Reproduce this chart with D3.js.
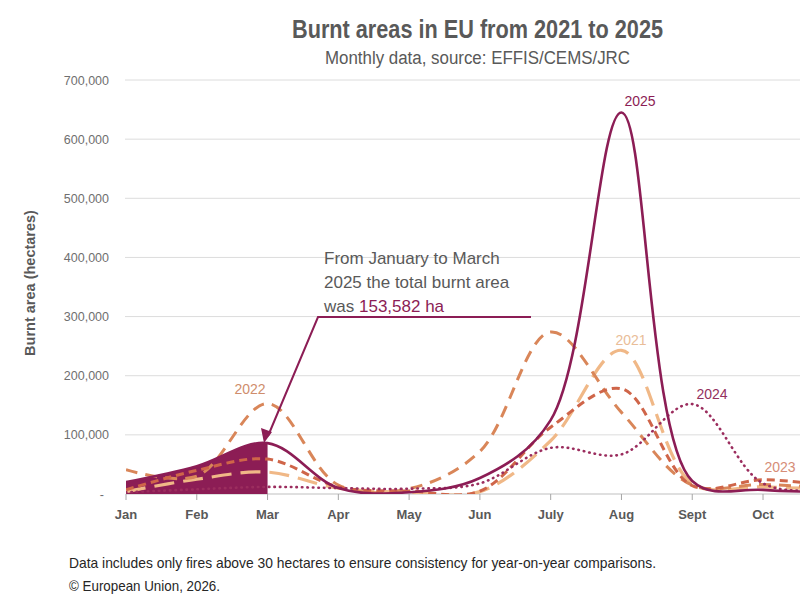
<!DOCTYPE html>
<html>
<head>
<meta charset="utf-8">
<script src="https://cdn.jsdelivr.net/npm/d3@7"></script>
<style>
	body { margin: 0; background: white; }
	.narrow { font-family: "Liberation Sans", sans-serif; }
</style>
</head>
<body>
<svg id="chart" width="800" height="598"></svg>
<script>
var months = ["Jan", "Feb", "Mar", "Apr", "May", "Jun", "July", "Aug", "Sept", "Oct", "Nov", "Dec"];
var yTicks = [0, 100000, 200000, 300000, 400000, 500000, 600000, 700000];

// monthly burnt area, hectares
var y2021 = [4000, 25000, 37000, 10000, 3000, 4000, 90000, 243000, 18000, 12000, 8000, 3000];
var y2022 = [41000, 30000, 153000, 15000, 9000, 72000, 274000, 138000, 15000, 16000, 10000, 5000];
var y2023 = [7000, 40000, 59000, 12000, 5000, 5000, 113000, 178000, 14000, 24000, 14000, 5000];
var y2024 = [3000, 8000, 12000, 10000, 9000, 18000, 78000, 67000, 152000, 18000, 6000, 3000];
var y2025 = [20000, 47000, 86000, 10000, 3000, 27000, 125000, 645000, 22000, 7000, 3000, 2000];

var series = [
	{ name: "2021", values: y2021, color: "#F0B887", dash: "20 9", width: 3.2, label: [631, 345], labelColor: "#E9BD98" },
	{ name: "2022", values: y2022, color: "#D98659", dash: "12 8", width: 3, label: [250, 394], labelColor: "#CF8D6C" },
	{ name: "2023", values: y2023, color: "#CF6549", dash: "8 5", width: 3, label: [780, 472], labelColor: "#D68D77" },
	{ name: "2024", values: y2024, color: "#9B2D5E", dash: "0.5 5", width: 2.6, label: [712, 399], labelColor: "#93305E" },
	{ name: "2025", values: y2025, color: "#8C1D55", dash: null, width: 2.6, label: [640, 106], labelColor: "#8C1D55" }
];

var svg = d3.select("#chart");

var x = d3.scalePoint()
	.domain(months)
	.range([126, 126 + 11 * 70.78]);

var y = d3.scaleLinear()
	.domain([0, 700000])
	.range([494, 80]);

// titles (condensed look via textLength)
svg.append("text")
	.attr("class", "narrow")
	.attr("x", 292)
	.attr("y", 38)
	.attr("textLength", 371)
	.attr("lengthAdjust", "spacingAndGlyphs")
	.style("font-size", "25px")
	.style("font-weight", "bold")
	.style("fill", "#595959")
	.text("Burnt areas in EU from 2021 to 2025");

svg.append("text")
	.attr("class", "narrow")
	.attr("x", 325)
	.attr("y", 64)
	.attr("textLength", 305)
	.attr("lengthAdjust", "spacingAndGlyphs")
	.style("font-size", "18px")
	.style("fill", "#595959")
	.text("Monthly data, source: EFFIS/CEMS/JRC");

// grid + y labels
svg.append("g")
	.selectAll("line")
	.data(yTicks.slice(1))
	.enter().append("line")
	.attr("x1", 125)
	.attr("x2", 800)
	.attr("y1", function (d) { return y(d); })
	.attr("y2", function (d) { return y(d); })
	.style("stroke", "#dcdcdc")
	.style("stroke-width", 1);

svg.append("g")
	.selectAll("text")
	.data(yTicks)
	.enter().append("text")
	.attr("x", function (d) { return d === 0 ? 104 : 109; })
	.attr("y", function (d) { return y(d) + 4.5; })
	.attr("text-anchor", "end")
	.style("font-family", "Liberation Sans, sans-serif")
	.style("font-size", "12.5px")
	.style("fill", "#6f6f6f")
	.text(function (d) { return d === 0 ? "-" : d3.format(",")(d); });

svg.append("text")
	.attr("transform", "translate(35,283) rotate(-90)")
	.attr("text-anchor", "middle")
	.style("font-family", "Liberation Sans, sans-serif")
	.style("font-size", "14.5px")
	.style("font-weight", "bold")
	.style("fill", "#595959")
	.text("Burnt area (hectares)");

// x axis
var xAxis = svg.append("g")
	.attr("transform", "translate(0,494)");

xAxis.append("line")
	.attr("x1", 126)
	.attr("x2", 800)
	.style("stroke", "#bfbfbf")
	.style("stroke-width", 1);

var tick = xAxis.selectAll("g")
	.data(months.filter(function (m) { return x(m) < 790; }))
	.enter().append("g")
	.attr("transform", function (d) { return "translate(" + x(d) + ",0)"; });

tick.append("line")
	.attr("y2", 6)
	.style("stroke", "#a6a6a6");

tick.append("text")
	.attr("y", 25)
	.attr("text-anchor", "middle")
	.style("font-family", "Liberation Sans, sans-serif")
	.style("font-size", "13px")
	.style("font-weight", "bold")
	.style("fill", "#595959")
	.text(function (d) { return d; });

// filled Jan-Mar 2025
var defs = svg.append("defs");
defs.append("clipPath")
	.attr("id", "q1")
	.append("rect")
	.attr("x", x("Jan"))
	.attr("y", 0)
	.attr("width", x("Mar") - x("Jan"))
	.attr("height", 494);

defs.append("clipPath")
	.attr("id", "plot")
	.append("rect")
	.attr("x", x("Jan"))
	.attr("y", 60)
	.attr("width", 700)
	.attr("height", 434);

var area = d3.area()
	.x(function (d, i) { return x(months[i]); })
	.y0(y(0))
	.y1(function (d) { return y(d); })
	.curve(d3.curveCatmullRom);

svg.append("path")
	.datum(y2025)
	.attr("clip-path", "url(#q1)")
	.attr("d", area)
	.style("fill", "#8C1D55");

var line = d3.line()
	.x(function (d, i) { return x(months[i]); })
	.y(function (d) { return y(d); })
	.curve(d3.curveCatmullRom);

svg.append("g")
	.attr("clip-path", "url(#plot)")
	.selectAll("path")
	.data(series)
	.enter().append("path")
	.attr("d", function (d) { return line(d.values); })
	.style("fill", "none")
	.style("stroke", function (d) { return d.color; })
	.style("stroke-width", function (d) { return d.width; })
	.style("stroke-dasharray", function (d) { return d.dash; })
	.style("stroke-linecap", function (d) { return d.name === "2024" ? "round" : "butt"; });

svg.append("g")
	.selectAll("text")
	.data(series)
	.enter().append("text")
	.attr("x", function (d) { return d.label[0]; })
	.attr("y", function (d) { return d.label[1]; })
	.attr("text-anchor", "middle")
	.style("font-family", "Liberation Sans, sans-serif")
	.style("font-size", "14px")
	.style("fill", function (d) { return d.labelColor; })
	.text(function (d) { return d.name; });

// annotation
svg.append("path")
	.attr("d", "M531,317 L318,317 L268,436")
	.style("fill", "none")
	.style("stroke", "#8C1D55")
	.style("stroke-width", 2);

svg.append("path")
	.attr("d", "M264,443 L261,428 L272,432 Z")
	.style("fill", "#8C1D55");

var note = svg.append("text")
	.style("font-family", "Liberation Sans, sans-serif")
	.style("font-size", "17px")
	.style("fill", "#595959");

note.append("tspan").attr("x", 324).attr("y", 264).text("From January to March");
note.append("tspan").attr("x", 324).attr("y", 288).text("2025 the total burnt area");
note.append("tspan").attr("x", 324).attr("y", 312).text("was ");
note.append("tspan").style("fill", "#8C1D55").text("153,582 ha");

// footnote
svg.append("text")
	.attr("class", "narrow")
	.attr("x", 69)
	.attr("y", 568)
	.attr("textLength", 587)
	.attr("lengthAdjust", "spacingAndGlyphs")
	.style("font-size", "15px")
	.style("fill", "#262626")
	.text("Data includes only fires above 30 hectares to ensure consistency for year-on-year comparisons.");

svg.append("text")
	.attr("class", "narrow")
	.attr("x", 69)
	.attr("y", 591)
	.attr("textLength", 151)
	.attr("lengthAdjust", "spacingAndGlyphs")
	.style("font-size", "15px")
	.style("fill", "#262626")
	.text("\u00A9 European Union, 2026.");
</script>
</body>
</html>
